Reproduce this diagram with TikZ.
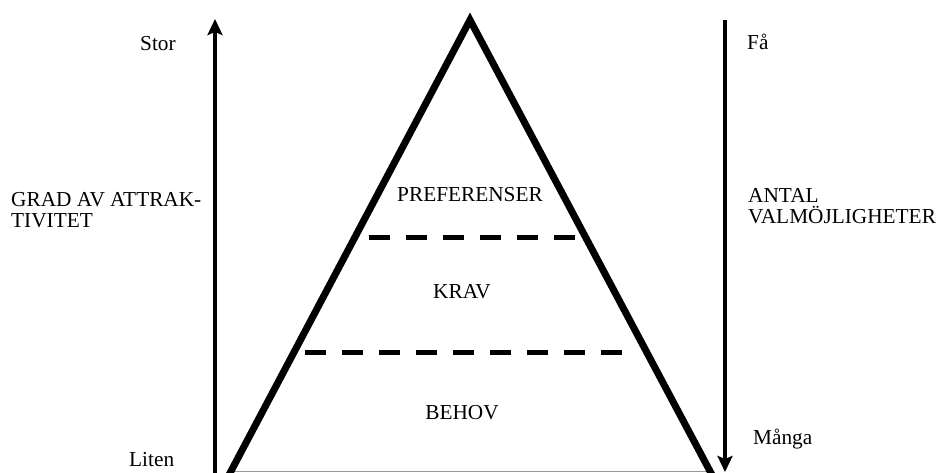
\documentclass[tikz,border=0pt]{standalone}
\usepackage{fontspec}
\setmainfont{Liberation Serif}
\usetikzlibrary{arrows.meta}
\begin{document}
\begin{tikzpicture}[x=1pt,y=-1pt,
  lbl/.style={inner sep=0pt,font=\fontsize{21.3}{22}\selectfont},
  side/.style={line width=7pt,line join=miter,miter limit=20},
  level/.style={line width=5pt,dash pattern=on 21pt off 16pt},
  axis/.style={line width=4pt,-{Stealth[length=16pt,width=15pt,inset=3pt]}},
  base/.style={line width=1.5pt,draw=black!40}]
\useasboundingbox (0,0) rectangle (938,473);
% triangle
\coordinate (apex) at (470,20);
\coordinate (bl) at (226.3,480);
\coordinate (br) at (714.7,480);
\coordinate (b1) at (233,471.5);
\coordinate (b2) at (709,471.5);
\draw[base] (b1) -- (b2);
\draw[side] (bl) -- (apex) -- (br);
% levels
\coordinate (u1) at (369,238);
\coordinate (u2) at (579,238);
\coordinate (l1) at (305,353);
\coordinate (l2) at (627,353);
\draw[level] (u1) -- (u2);
\draw[level] (l1) -- (l2);
% axes
\coordinate (la0) at (215,480);
\coordinate (la1) at (215,19);
\coordinate (ra0) at (725,20);
\coordinate (ra1) at (725,472);
\draw[axis] (la0) -- (la1);
\draw[axis] (ra0) -- (ra1);
% labels
\node[lbl,anchor=base] (pref) at (470,202) {PREFERENSER};
\node[lbl,anchor=base] (krav) at (462,299) {KRAV};
\node[lbl,anchor=base] (behov) at (462,419) {BEHOV};
\node[lbl,anchor=base west] (stor) at (140,51) {Stor};
\node[lbl,anchor=base west] (liten) at (129,466) {Liten};
\node[lbl,anchor=base west] (fa) at (747,50) {Få};
\node[lbl,anchor=base west] (manga) at (753,444) {Många};
\node[lbl,anchor=base west] (grad1) at (11,207) {GRAD AV ATTRAK-};
\node[lbl,anchor=base west] (grad2) at (11,228) {TIVITET};
\node[lbl,anchor=base west] (antal1) at (748,203) {ANTAL};
\node[lbl,anchor=base west] (antal2) at (748,224) {VALMÖJLIGHETER};
\end{tikzpicture}
\end{document}
